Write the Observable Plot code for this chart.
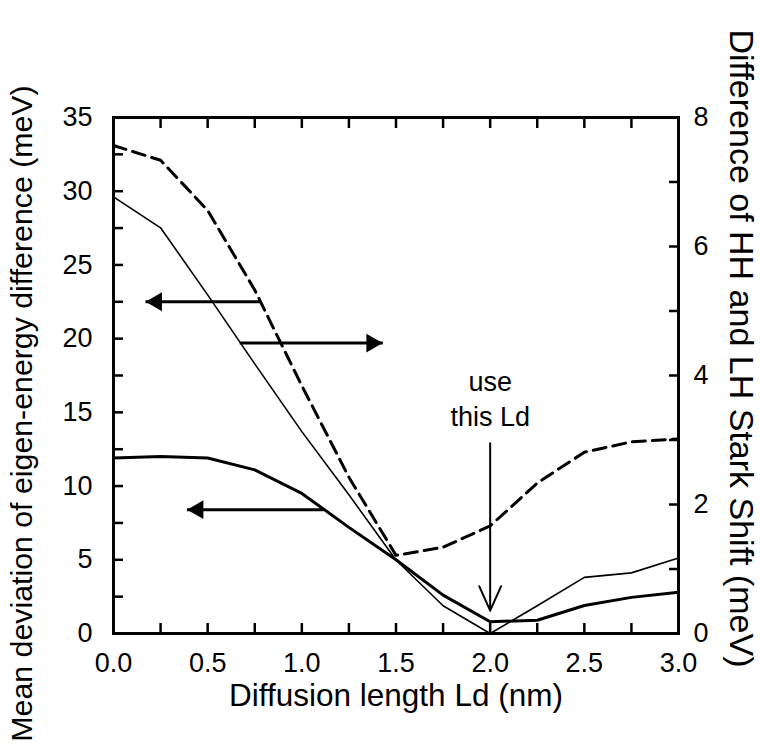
<!DOCTYPE html>
<html><head><meta charset="utf-8">
<script src="https://cdn.jsdelivr.net/npm/d3@7"></script>
<script src="https://cdn.jsdelivr.net/npm/@observablehq/plot@0.6"></script>
<style>html,body{margin:0;padding:0;background:#fff;} svg{display:block}</style>
</head><body><div id="chart"></div>
<script>
// Diffusion length Ld (nm)
const ld = [0, 0.25, 0.5, 0.75, 1.0, 1.25, 1.5, 1.75, 2.0, 2.25, 2.5, 2.75, 3.0];
// Mean deviation of eigen-energy difference (meV), left axis
const meanDevDashed = [33.1, 32.1, 28.7, 23.3, 16.8, 10.6, 5.3, 5.85, 7.3, 10.2, 12.3, 13.0, 13.2];
const meanDevSolid  = [11.9, 12.0, 11.9, 11.1, 9.5, 7.2, 5.0, 2.6, 0.8, 0.9, 1.9, 2.45, 2.8];
// Difference of HH and LH Stark shift (meV), right axis
const starkDiff = [6.77, 6.29, 5.25, 4.18, 3.13, 2.15, 1.14, 0.43, 0.0, 0.43, 0.87, 0.94, 1.17];

// axes
const xLabelTicks = [0, 0.5, 1.0, 1.5, 2.0, 2.5, 3.0];
const xMarkTicks = [0, 0.25, 0.5, 0.75, 1.0, 1.25, 1.5, 1.75, 2.0, 2.25, 2.5, 2.75, 3.0];
const leftLabelTicks = [0, 5, 10, 15, 20, 25, 30, 35];
const leftMarkTicks = [0, 2.5, 5, 7.5, 10, 12.5, 15, 17.5, 20, 22.5, 25, 27.5, 30, 32.5, 35];
const rightLabelTicks = [0, 2, 4, 6, 8];
const rightMarkTicks = [0, 1, 2, 3, 4, 5, 6, 7, 8];
const leftMax = 35, rightMax = 8;
const r2l = v => v * leftMax / rightMax;

// annotations (data units, left axis)
const leftArrows = [{x1: 0.78, x2: 0.17, y: 22.5}, {x1: 1.115, x2: 0.39, y: 8.4}];
const rightArrows = [{x1: 0.67, x2: 1.43, y: 19.7}];
const pointer = [{x: 2.0, y1: 12.9, y2: 1.55}];
const note = [{x: 2.0, y: 16.0, text: "use\nthis Ld"}];

const xTitle = "Diffusion length Ld (nm)";
const leftTitle = "Mean deviation of eigen-energy difference (meV)";
const rightTitle = "Difference of HH and LH Stark Shift (meV)";

const dashedRows = ld.map((x, i) => ({x, y: meanDevDashed[i]}));
const solidRows = ld.map((x, i) => ({x, y: meanDevSolid[i]}));
const thinRows = ld.map((x, i) => ({x, v: starkDiff[i]}));

const font = "'Liberation Sans', Arial, Helvetica, sans-serif";
const T = 10; // tick length
const none = () => "";

const chart = Plot.plot({
  width: 760, height: 747,
  marginLeft: 113, marginRight: 82, marginTop: 117, marginBottom: 114,
  x: {domain: [0, 3]},
  y: {domain: [0, leftMax]},
  style: {fontFamily: font, background: "white", color: "black"},
  marks: [
    // inward tick marks
    Plot.axisX(xMarkTicks, {anchor: "bottom", tickSize: T, dy: -T, tickFormat: none, label: null, strokeWidth: 2.5}),
    Plot.axisX(xMarkTicks, {anchor: "top", tickSize: T, dy: T, tickFormat: none, label: null, strokeWidth: 2.5}),
    Plot.axisY(leftMarkTicks, {anchor: "left", tickSize: T, dx: T, tickFormat: none, label: null, strokeWidth: 2.5}),
    Plot.axisY(rightMarkTicks.map(r2l), {anchor: "right", tickSize: T, dx: -T, tickFormat: none, label: null, strokeWidth: 2.5}),
    // tick labels
    Plot.axisX(xLabelTicks, {anchor: "bottom", tickSize: 0, tickPadding: 19, tickFormat: d3.format(".1f"), label: null, fontSize: 27}),
    Plot.axisY(leftLabelTicks, {anchor: "left", tickSize: 0, tickPadding: 21, label: null, fontSize: 27}),
    Plot.axisY(rightLabelTicks.map(r2l), {anchor: "right", tickSize: 0, tickPadding: 15, tickFormat: d => String(Math.round(d * rightMax / leftMax)), label: null, fontSize: 27}),
    // titles
    Plot.text([xTitle], {frameAnchor: "bottom", dy: 62, textAnchor: "middle", lineAnchor: "middle", fontSize: 31.5, text: d => d}),
    Plot.text([leftTitle], {frameAnchor: "left", dx: -91, dy: 38, rotate: -90, textAnchor: "middle", lineAnchor: "middle", fontSize: 30.3, text: d => d}),
    Plot.text([rightTitle], {frameAnchor: "right", dx: 62, dy: -27, rotate: 90, textAnchor: "middle", lineAnchor: "middle", fontSize: 34, text: d => d}),
    Plot.frame({stroke: "black", strokeWidth: 3}),
    // data lines
    Plot.line(dashedRows, {x: "x", y: "y", stroke: "black", strokeWidth: 3, strokeDasharray: "13,7"}),
    Plot.line(solidRows, {x: "x", y: "y", stroke: "black", strokeWidth: 3}),
    Plot.line(thinRows, {x: "x", y: d => r2l(d.v), stroke: "black", strokeWidth: 1.6}),
    // arrows
    Plot.link(leftArrows, {x1: "x1", x2: "x2", y1: "y", y2: "y", stroke: "black", strokeWidth: 3}),
    Plot.link(rightArrows, {x1: "x1", x2: "x2", y1: "y", y2: "y", stroke: "black", strokeWidth: 3}),
    Plot.dot(leftArrows, {x: "x2", y: "y", symbol: "triangle", r: 7, rotate: -90, dx: 11, fill: "black", stroke: null}),
    Plot.dot(rightArrows, {x: "x2", y: "y", symbol: "triangle", r: 7, rotate: 90, dx: -11, fill: "black", stroke: null}),
    Plot.arrow(pointer, {x1: "x", x2: "x", y1: "y1", y2: "y2", stroke: "black", strokeWidth: 2, headLength: 20, headAngle: 48}),
    Plot.text(note, {x: "x", y: "y", text: "text", fontSize: 27, lineHeight: 1.3, lineAnchor: "middle"})
  ]
});
document.getElementById("chart").appendChild(chart);
</script>
</body></html>
